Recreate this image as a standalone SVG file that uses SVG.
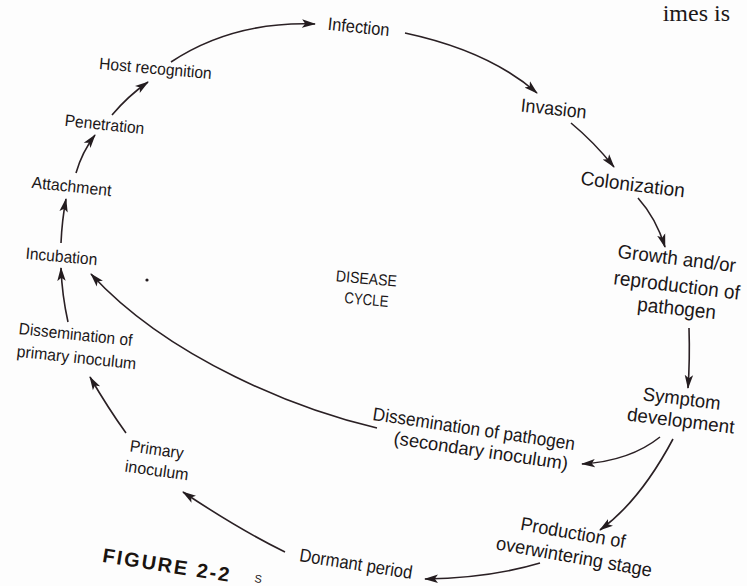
<svg xmlns="http://www.w3.org/2000/svg" width="747" height="586" viewBox="0 0 747 586">
<defs>
<marker id="ah" markerUnits="userSpaceOnUse" markerWidth="14" markerHeight="10" viewBox="0 0 14 10" refX="13" refY="5" orient="auto">
<path d="M0,0.8 L14,5 L0,9.2 L3.2,5 z" fill="#231c1f"/>
</marker>
</defs>
<style>
.t{font-family:"Liberation Sans",Arial,sans-serif;fill:#1b1718;text-anchor:middle}
.c{fill:none;stroke:#2a2024;stroke-width:1.6;marker-end:url(#ah)}
.pg{font-family:"Liberation Serif","Times New Roman",serif;fill:#1b1718}
</style>
<rect width="747" height="586" fill="#fdfdfd"/>
<text class="pg" x="730" y="21" font-size="24" text-anchor="end">imes  is</text>

<g id="connectors">
<path class="c" d="M171,62 Q233,21 315,24"/>
<path class="c" d="M405,33 Q489,51 537,93"/>
<path class="c" d="M571,123 Q594,142 614,167"/>
<path class="c" d="M638,198 Q656,218 665,247"/>
<path class="c" d="M689,328 Q690,360 688,388"/>
<path class="c" d="M660,437 Q630,461 582,464"/>
<path class="c" d="M673,439 Q640,501 600,530"/>
<path class="c" d="M540,563 Q490,578 425,579"/>
<path class="c" d="M285,552 Q240,530 183,492"/>
<path class="c" d="M126,433 Q108,408 90,377"/>
<path class="c" d="M68,322 Q62,295 61,268"/>
<path class="c" d="M61,243 Q62,220 66,199"/>
<path class="c" d="M76,173 Q82,152 95,135"/>
<path class="c" d="M112,115 Q128,96 148,82"/>
<path class="c" d="M377,428 C300,410 170,360 91,274"/>
</g>

<g id="infection"><text class="t" x="358" y="33" font-size="18" textLength="62" lengthAdjust="spacingAndGlyphs" transform="rotate(6 358 33)">Infection</text></g>
<g id="invasion"><text class="t" x="553" y="115" font-size="19" textLength="66" lengthAdjust="spacingAndGlyphs" transform="rotate(6 553 115)">Invasion</text></g>
<g id="colonization"><text class="t" x="632" y="191" font-size="19.5" textLength="105" lengthAdjust="spacingAndGlyphs" transform="rotate(7 632 191)">Colonization</text></g>
<g id="growth">
<text class="t" x="676" y="265" font-size="19.5" textLength="119" lengthAdjust="spacingAndGlyphs" transform="rotate(7 676 265)">Growth and/or</text>
<text class="t" x="676" y="292" font-size="20" textLength="127" lengthAdjust="spacingAndGlyphs" transform="rotate(7 676 292)">reproduction of</text>
<text class="t" x="676" y="315" font-size="20" textLength="79" lengthAdjust="spacingAndGlyphs" transform="rotate(6 676 315)">pathogen</text>
</g>
<g id="symptom">
<text class="t" x="681" y="405" font-size="19" textLength="78" lengthAdjust="spacingAndGlyphs" transform="rotate(7 681 405)">Symptom</text>
<text class="t" x="680" y="427" font-size="19" textLength="108" lengthAdjust="spacingAndGlyphs" transform="rotate(7 680 427)">development</text>
</g>
<g id="secondary">
<text class="t" x="473" y="435" font-size="18.5" textLength="204" lengthAdjust="spacingAndGlyphs" transform="rotate(8.5 473 435)">Dissemination of pathogen</text>
<text class="t" x="480" y="457" font-size="18.5" textLength="176" lengthAdjust="spacingAndGlyphs" transform="rotate(8.5 480 457)">(secondary inoculum)</text>
</g>
<g id="production">
<text class="t" x="572" y="539" font-size="19" textLength="106" lengthAdjust="spacingAndGlyphs" transform="rotate(10 572 539)">Production of</text>
<text class="t" x="573" y="563" font-size="19" textLength="158" lengthAdjust="spacingAndGlyphs" transform="rotate(10 573 563)">overwintering stage</text>
</g>
<g id="dormant"><text class="t" x="355" y="570" font-size="18.5" textLength="114" lengthAdjust="spacingAndGlyphs" transform="rotate(9 355 570)">Dormant period</text></g>
<g id="primary">
<text class="t" x="156" y="455" font-size="16.5" textLength="54" lengthAdjust="spacingAndGlyphs" transform="rotate(8 156 455)">Primary</text>
<text class="t" x="156" y="476" font-size="16.5" textLength="64" lengthAdjust="spacingAndGlyphs" transform="rotate(8 156 476)">inoculum</text>
</g>
<g id="dissem-primary">
<text class="t" x="75" y="340" font-size="16.5" textLength="114" lengthAdjust="spacingAndGlyphs" transform="rotate(6 75 340)">Dissemination of</text>
<text class="t" x="76" y="363" font-size="16.5" textLength="120" lengthAdjust="spacingAndGlyphs" transform="rotate(6 76 363)">primary inoculum</text>
</g>
<g id="incubation"><text class="t" x="61" y="262" font-size="16.5" textLength="72" lengthAdjust="spacingAndGlyphs" transform="rotate(5 61 262)">Incubation</text></g>
<g id="attachment"><text class="t" x="71" y="192" font-size="16.5" textLength="80" lengthAdjust="spacingAndGlyphs" transform="rotate(6 71 192)">Attachment</text></g>
<g id="penetration"><text class="t" x="104" y="130" font-size="16.5" textLength="80" lengthAdjust="spacingAndGlyphs" transform="rotate(6 104 130)">Penetration</text></g>
<g id="host"><text class="t" x="155" y="74" font-size="16.5" textLength="113" lengthAdjust="spacingAndGlyphs" transform="rotate(5 155 74)">Host recognition</text></g>
<g id="center">
<text class="t" x="366" y="284" font-size="16" textLength="61" lengthAdjust="spacingAndGlyphs" transform="rotate(5 366 284)">DISEASE</text>
<text class="t" x="366" y="305" font-size="16" textLength="44" lengthAdjust="spacingAndGlyphs" transform="rotate(5 366 305)">CYCLE</text>
</g>
<circle cx="147" cy="280" r="1.6" fill="#231c1f"/>
<g id="caption">
<text x="166" y="572" font-family="Liberation Sans,Arial,sans-serif" font-weight="bold" font-size="20" letter-spacing="2" fill="#1a1410" text-anchor="middle" transform="rotate(9 166 572)">FIGURE 2-2</text>
<text x="254" y="582" font-family="Liberation Sans,Arial,sans-serif" font-size="11" fill="#1b1718" transform="rotate(9 254 582)">S</text>
</g>
</svg>
